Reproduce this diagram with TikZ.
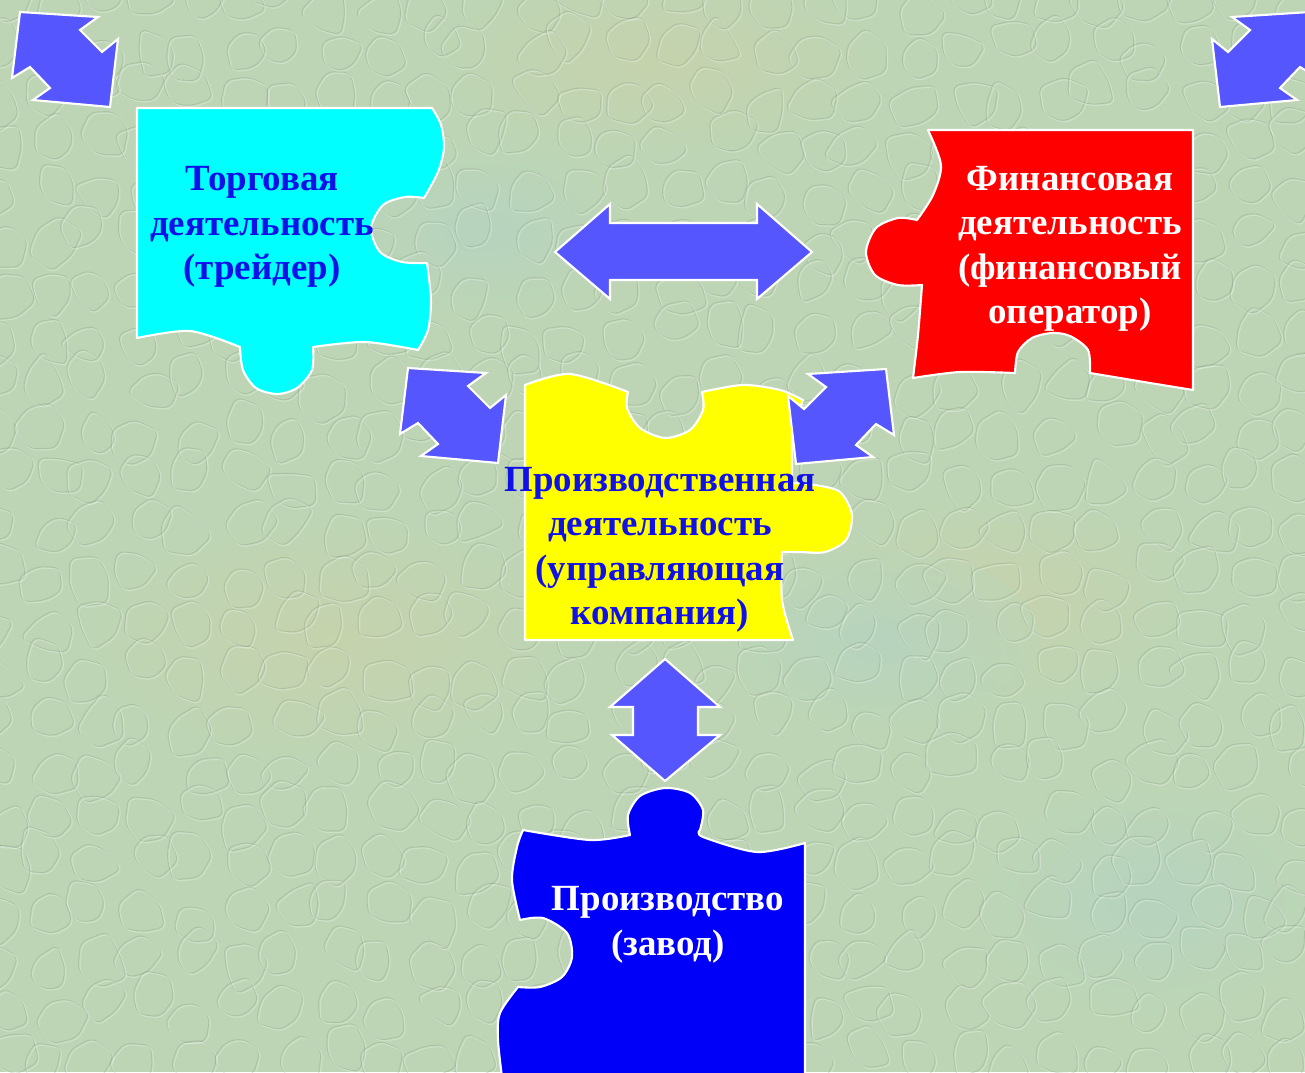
\documentclass[tikz,border=0pt]{standalone}
\usepackage{fontspec}
\setmainfont{Liberation Serif}
\definecolor{bgbase}{RGB}{189,213,181}
\definecolor{bgyellow}{RGB}{204,210,168}
\definecolor{bgblue}{RGB}{178,211,198}
\definecolor{stoneline}{RGB}{120,146,116}
\definecolor{arrowblue}{RGB}{86,86,255}
\definecolor{textblue}{RGB}{16,16,232}
\definecolor{piececyan}{RGB}{0,255,255}
\definecolor{piecered}{RGB}{255,0,0}
\definecolor{pieceyellow}{RGB}{255,255,0}
\definecolor{pieceblue}{RGB}{0,0,250}
\tikzset{
  piece/.style={draw=white, line width=1.2pt, line join=round},
  arrowshape/.style={fill=arrowblue, draw=white, line width=1.2pt, line join=miter},
  piecetext/.style={align=center, font=\bfseries\fontsize{21}{25.3}\selectfont, inner sep=0pt},
  stonedark/.style={draw=stoneline, line width=0.5pt, opacity=0.28, rounded corners=4pt},
  stonelight/.style={draw=white, line width=0.6pt, opacity=0.28, rounded corners=4pt}
}
% one diagonal double arrow, drawn in the local frame of the current scope
\newcommand\diagarrow{%
  \draw[arrowshape] (20,12) -- (98,17) -- (80,30) -- (102,52) -- (118,39)
    -- (110,107) -- (33,100) -- (50,88) -- (30,67) -- (12,78) -- cycle;}
\begin{document}
\begin{tikzpicture}[x=0.02cm, y=-0.02cm]
\useasboundingbox (0,0) rectangle (1305,1072);
\clip (0,0) rectangle (1305,1072);

% textured background
\fill[bgbase] (0,0) rectangle (1305,1072);
\begin{scope}[opacity=0.6]
\shade[inner color=bgyellow, outer color=bgbase] (660,60) ellipse (240 and 100);
\shade[inner color=bgyellow, outer color=bgbase] (330,640) ellipse (260 and 130);
\shade[inner color=bgyellow, outer color=bgbase] (1000,600) ellipse (200 and 110);
\shade[inner color=bgblue, outer color=bgbase] (480,230) ellipse (150 and 90);
\shade[inner color=bgblue, outer color=bgbase] (880,640) ellipse (160 and 90);
\shade[inner color=bgblue, outer color=bgbase] (1150,900) ellipse (180 and 120);
\end{scope}
\pgfmathsetseed{11}
\foreach \i in {0,...,27}{
  \foreach \j in {0,...,22}{
    \pgfmathsetmacro\cx{\i*48+13*rand}
    \pgfmathsetmacro\cy{\j*48+13*rand}
    \pgfmathsetmacro\ra{23+7*rand}
    \pgfmathsetmacro\rb{23+7*rand}
    \pgfmathsetmacro\rc{23+7*rand}
    \pgfmathsetmacro\rd{23+7*rand}
    \pgfmathsetmacro\re{23+7*rand}
    \pgfmathsetmacro\rf{23+7*rand}
    \pgfmathsetmacro\ro{30*rand}
    \draw[stonedark] (\cx,\cy) +(\ro:\ra) -- +(\ro+60:\rb) -- +(\ro+120:\rc) -- +(\ro+180:\rd) -- +(\ro+240:\re) -- +(\ro+300:\rf) -- cycle;
    \draw[stonelight] (\cx+1.5,\cy+1.5) +(\ro:\ra) -- +(\ro+60:\rb) -- +(\ro+120:\rc) -- +(\ro+180:\rd) -- +(\ro+240:\re) -- +(\ro+300:\rf) -- cycle;
  }
}

% trading piece (cyan)
\path[piece, fill=piececyan] (137,108) -- (432,108)
  -- plot[smooth] coordinates {(432,108) (441,125) (444,148) (438,172) (424,198)}
  -- plot[smooth] coordinates {(424,198) (405,197) (383,205) (371,228) (380,252) (402,262) (427,263)}
  -- plot[smooth] coordinates {(427,263) (431,300) (428,330) (418,350)}
  -- plot[smooth] coordinates {(418,350) (365,342) (313,347)}
  -- plot[smooth] coordinates {(313,347) (312,370) (297,388) (277,394) (256,388) (243,370) (240,347)}
  -- plot[smooth] coordinates {(240,347) (190,331) (137,338)}
  -- cycle;

% financial piece (red)
\path[piece, fill=piecered] (928,130) -- (1193,130) -- (1193,390)
  -- plot[smooth] coordinates {(1193,390) (1150,383) (1090,373)}
  -- plot[smooth] coordinates {(1090,373) (1088,350) (1070,336) (1052,333) (1032,338) (1018,352) (1015,373)}
  -- plot[smooth] coordinates {(1015,373) (960,372) (913,378)}
  -- plot[smooth] coordinates {(913,378) (918,335) (922,285)}
  -- plot[smooth] coordinates {(922,285) (898,285) (875,275) (866,252) (876,228) (898,218) (917,220)}
  -- plot[smooth] coordinates {(917,220) (933,195) (941,165) (928,130)}
  -- cycle;

% management piece (yellow)
\path[piece, fill=pieceyellow] (525,385)
  -- plot[smooth] coordinates {(525,385) (570,374) (628,392)}
  -- plot[smooth] coordinates {(628,392) (627,408) (640,428) (665,438) (690,430) (703,410) (702,392)}
  -- plot[smooth] coordinates {(702,392) (743,385) (780,390) (803,400)}
  -- (792,430) -- (792,483)
  -- plot[smooth] coordinates {(792,483) (815,485) (840,492) (852,515) (846,540) (825,552) (800,552) (782,552)}
  -- plot[smooth] coordinates {(782,552) (782,600) (793,640)}
  -- (525,640) -- cycle;

% plant piece (blue)
\path[piece, fill=pieceblue] (523,830)
  -- plot[smooth] coordinates {(523,830) (590,840) (630,835)}
  -- plot[smooth] coordinates {(630,835) (628,815) (640,796) (665,788) (690,793) (703,810) (700,830)}
  -- plot[smooth] coordinates {(700,830) (703,837) (757,852) (805,843)}
  -- (805,1085) -- (503,1085)
  -- plot[smooth] coordinates {(503,1085) (498,1040) (500,1013) (518,987)}
  -- plot[smooth] coordinates {(518,987) (540,987) (562,977) (572,957) (567,933) (543,918) (520,920)}
  -- plot[smooth] coordinates {(520,920) (512,880) (517,847) (523,830)}
  -- cycle;

% double arrows
\diagarrow
\begin{scope}[shift={(1330,0)}, xscale=-1] \diagarrow \end{scope}
\begin{scope}[shift={(388,356)}] \diagarrow \end{scope}
\begin{scope}[shift={(906,357)}, xscale=-1] \diagarrow \end{scope}

\draw[arrowshape] (555,252) -- (610,204) -- (610,223) -- (757,223) -- (757,204)
  -- (812,252) -- (757,299) -- (757,280) -- (610,280) -- (610,299) -- cycle;
\draw[arrowshape] (665,659) -- (720,707) -- (698,707) -- (698,735) -- (720,735)
  -- (665,781) -- (612,735) -- (633,735) -- (633,707) -- (610,707) -- cycle;

% labels
\node[piecetext, text=textblue] (trade) at (262,227) {Торговая\\деятельность\\(трейдер)};
\node[piecetext, text=white] (finance) at (1070,249) {Финансовая\\деятельность\\(финансовый\\оператор)};
\node[piecetext, text=textblue] (manage) at (660,550) {Производственная\\деятельность\\(управляющая\\компания)};
\node[piecetext, text=white] (plant) at (668,925) {Производство\\(завод)};
\end{tikzpicture}
\end{document}
